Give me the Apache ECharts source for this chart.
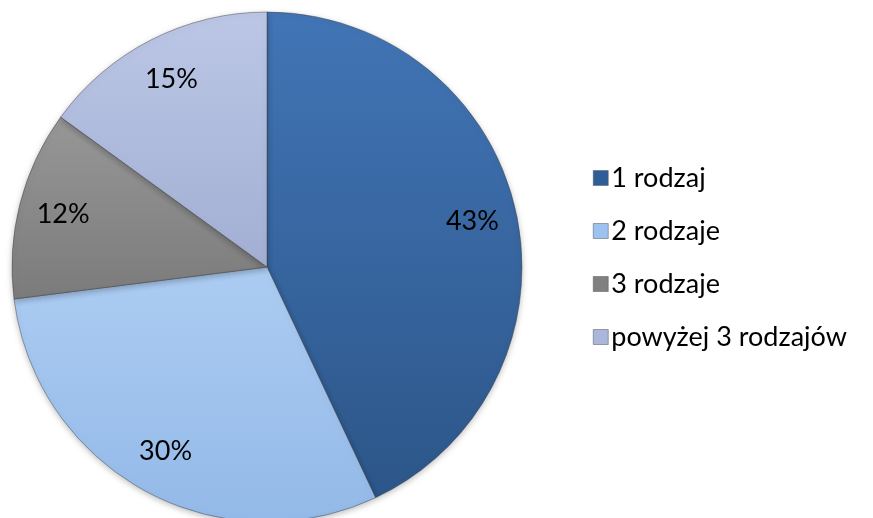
<!DOCTYPE html>
<html><head><meta charset="utf-8">
<script src="https://cdn.jsdelivr.net/npm/echarts@6/dist/echarts.min.js"></script>
<style>html,body{margin:0;padding:0;background:#fff}#c{width:873px;height:518px}</style>
</head><body><div id="c"></div>
<script>
const categories = ['1 rodzaj', '2 rodzaje', '3 rodzaje', 'powyżej 3 rodzajów'];
const values = [43, 30, 12, 15];
const colors = [
  ['#4275b6', '#2c5689'],
  ['#acccf2', '#93b9e8'],
  ['#979797', '#7b7b7b'],
  ['#bcc7e6', '#a2afd3']
];
const legendColors = ['#2f5d98', '#9cc2ef', '#808080', '#aab6da'];

const font = 'Lato, Carlito, "Open Sans", sans-serif';
const chart = echarts.init(document.getElementById('c'));
const mkGrad = c => new echarts.graphic.LinearGradient(0, 0, 0, 1, [{offset: 0, color: c[0]}, {offset: 1, color: c[1]}]);

chart.setOption({
  animation: false,
  legend: {
    orient: 'vertical',
    left: 588,
    top: 159,
    itemWidth: 15,
    itemHeight: 15,
    itemGap: 25,
    icon: 'rect',
    textStyle: {fontFamily: font, fontSize: 27, color: '#000', lineHeight: 28, padding: [0, 0, 0, -2]},
    data: categories.map((n, i) => ({name: n, itemStyle: {color: legendColors[i], borderColor: '#555', borderWidth: 0.5}}))
  },
  series: [{
    type: 'pie',
    center: [267, 267],
    radius: [0, 255],
    startAngle: 90,
    clockwise: true,
    label: {show: false},
    labelLine: {show: false},
    itemStyle: {borderColor: 'rgba(60,60,60,0.45)', borderWidth: 1, shadowBlur: 6, shadowColor: 'rgba(0,0,0,0.25)', shadowOffsetY: 2},
    emphasis: {disabled: true},
    data: categories.map((n, i) => ({name: n, value: values[i], itemStyle: {color: mkGrad(colors[i])}}))
  }, {
    type: 'pie',
    center: [267, 267],
    radius: [160, 255],
    startAngle: 90,
    clockwise: true,
    silent: true,
    legendHoverLink: false,
    itemStyle: {color: 'rgba(0,0,0,0)', borderWidth: 0},
    label: {show: true, position: 'inside', formatter: p => p.value + '%', fontFamily: font, fontSize: 27, color: '#000'},
    labelLine: {show: false},
    emphasis: {disabled: true},
    data: categories.map((n, i) => ({name: n + ' ', value: values[i]}))
  }]
});
</script></body></html>
